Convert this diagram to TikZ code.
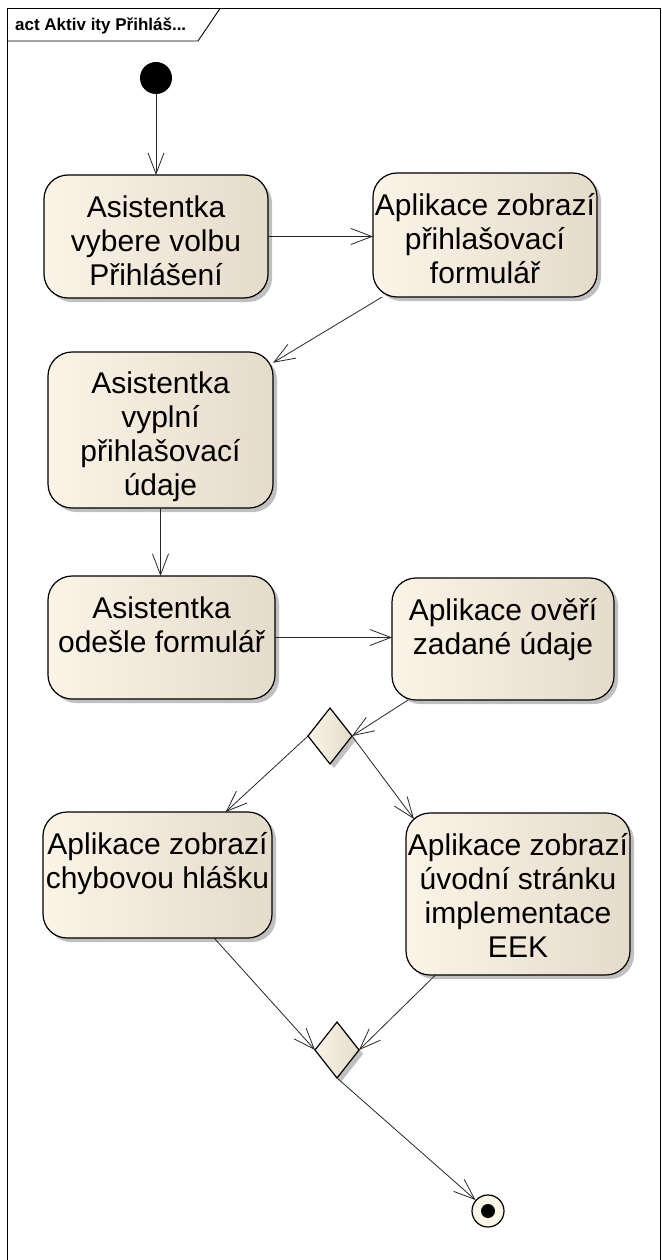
\documentclass[tikz,border=0pt]{standalone}
\usepackage{fontspec}
\setmainfont{Liberation Sans}
\usetikzlibrary{shapes.geometric,arrows.meta,shadows}
\definecolor{creamL}{RGB}{251,244,231}
\definecolor{creamR}{RGB}{229,219,203}
\definecolor{shade}{RGB}{192,192,192}
\begin{document}
\begin{tikzpicture}[x=1pt,y=-1pt,
  actbox/.style={rectangle, rounded corners=24pt, draw=black, line width=1.2pt,
    left color=creamL, right color=creamR, inner sep=0pt, outer sep=0pt,
    drop shadow={shadow xshift=4pt, shadow yshift=-4pt, fill=shade, opacity=1}},
  decision/.style={diamond, draw=black, line width=1.2pt, left color=creamL, right color=creamR,
    inner sep=0pt, outer sep=0pt, minimum width=44pt, minimum height=56pt,
    drop shadow={shadow xshift=4pt, shadow yshift=-4pt, fill=shade, opacity=1}},
  lbl/.style={align=center, inner sep=0pt, anchor=base, font=\fontsize{30}{34}\selectfont},
  flow/.style={draw=black!85, line width=0.8pt, -{Straight Barb[length=21pt, width=16pt, line width=0.8pt]}},
  frame/.style={draw=black, line width=0.9pt}]
\useasboundingbox (0,0) rectangle (661,1260);

% diagram frame and its name tab
\draw[frame] (7.5,1270) -- (7.5,8.5) -- (660,8.5) -- (660,1270);
\draw[frame] (7.5,41) -- (198,41) -- (220,8.5);
\node[anchor=base west, inner sep=0pt, font=\fontsize{17}{19}\bfseries] (title) at (15,31) {act Aktiv ity Přihláš...};

% initial node
\node[circle, fill=black, minimum size=32pt, inner sep=0pt] (start) at (156,78) {};

% actions (label base = baseline of the last line)
\node[actbox, anchor=north west, minimum width=224pt, minimum height=123pt] (b1) at (44,175) {};
\node[lbl] (b1t) at ([yshift=-110pt]b1.north) {Asistentka\\vybere volbu\\Přihlášení};

\node[actbox, anchor=north west, minimum width=224pt, minimum height=124pt] (b2) at (373,173) {};
\node[lbl] (b2t) at ([yshift=-110pt]b2.north) {Aplikace zobrazí\\přihlašovací\\formulář};

\node[actbox, anchor=north west, minimum width=225pt, minimum height=156pt] (b3) at (48,352) {};
\node[lbl] (b3t) at ([yshift=-143pt]b3.north) {Asistentka\\vyplní\\přihlašovací\\údaje};

\node[actbox, anchor=north west, minimum width=227pt, minimum height=123pt] (b4) at (48,576) {};
\node[lbl] (b4t) at ([yshift=-76pt]b4.north) {Asistentka\\odešle formulář};

\node[actbox, anchor=north west, minimum width=222pt, minimum height=122pt] (b5) at (392,578) {};
\node[lbl] (b5t) at ([yshift=-76pt]b5.north) {Aplikace ověří\\zadané údaje};

\node[decision] (d1) at (330,736) {};

\node[actbox, anchor=north west, minimum width=229pt, minimum height=126pt] (b6) at (43,812) {};
\node[lbl] (b6t) at ([yshift=-76pt]b6.north) {Aplikace zobrazí\\chybovou hlášku};

\node[actbox, anchor=north west, minimum width=224pt, minimum height=162pt] (b7) at (406,813) {};
\node[lbl] (b7t) at ([yshift=-144pt]b7.north) {Aplikace zobrazí\\úvodní stránku\\implementace\\EEK};

\node[decision] (d2) at (337,1050) {};

% final node
\node[circle, draw=black, line width=1.2pt, fill=creamL, minimum size=32pt, inner sep=0pt] (end) at (488,1211) {};
\node[circle, fill=black, minimum size=14pt, inner sep=0pt] (enddot) at (end) {};

% control flows
\draw[flow] (start) -- (start |- b1.north);
\draw[flow] (b1.east) -- (b1.east -| b2.west);
\draw[flow] (b2) -- (b3);
\draw[flow] (b3.south) -- (b3.south |- b4.north);
\draw[flow] (b4.east) -- (b4.east -| b5.west);
\draw[flow] (b5) -- (d1.east);
\draw[flow] (d1.west) -- (b6);
\draw[flow] (d1.east) -- ([xshift=8pt,yshift=-6pt]b7.north west);
\draw[flow] (b6) -- (d2.west);
\draw[flow] (b7) -- (d2.east);
\draw[flow] (d2.south) -- (end);
\end{tikzpicture}
\end{document}
